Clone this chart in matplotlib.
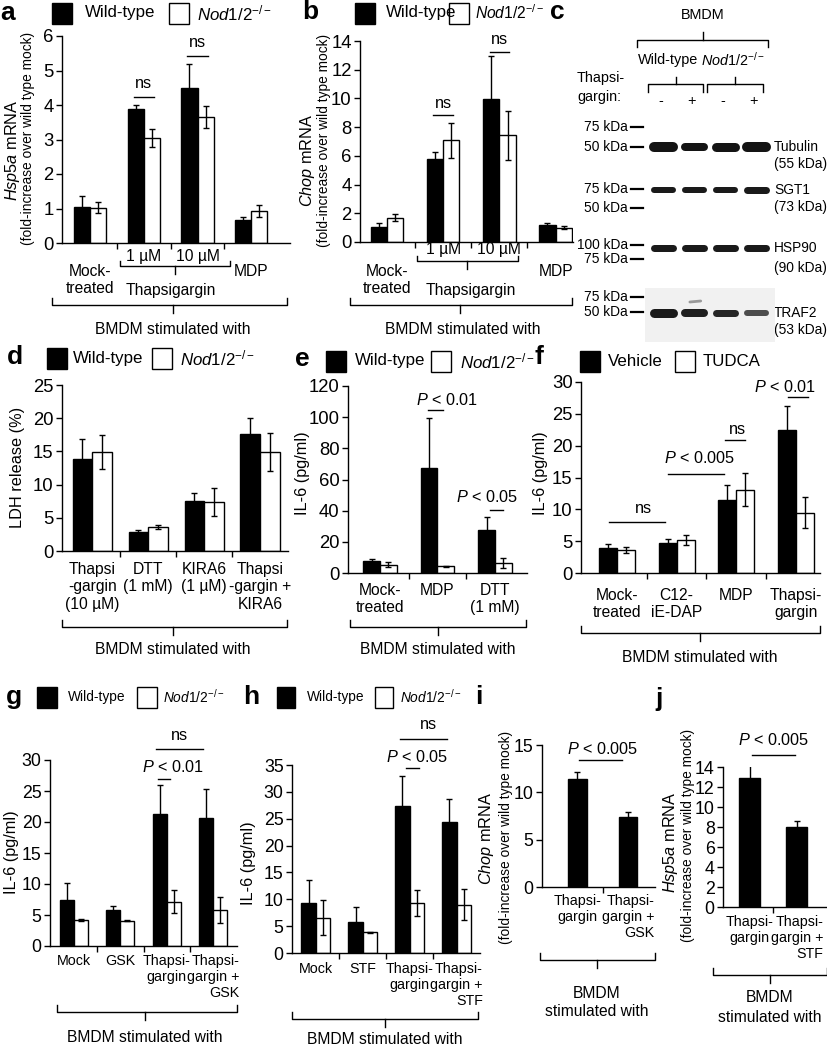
import numpy as np
import matplotlib
matplotlib.use('Agg')
import matplotlib.pyplot as plt
from matplotlib import transforms, font_manager
from matplotlib.patches import Rectangle

# the reference uses a condensed Arial-like face; take Liberation Sans Narrow if present
_names = {f.name for f in font_manager.fontManager.ttflist}
NARROW = 'Liberation Sans Narrow' in _names
FAM = 'Liberation Sans Narrow' if NARROW else 'Liberation Sans'
S = 1.0 if NARROW else 0.9      # text size factor
ST = 1.0 if NARROW else 0.95    # tick label size factor

plt.rcParams['font.family'] = [FAM, 'Liberation Sans', 'DejaVu Sans']
plt.rcParams['mathtext.fontset'] = 'custom'
plt.rcParams['mathtext.rm'] = FAM
plt.rcParams['mathtext.it'] = FAM + ':italic'
plt.rcParams['mathtext.bf'] = FAM + ':bold'
plt.rcParams['axes.linewidth'] = 1.0

NOD = r'$\mathit{Nod1/2}^{-/-}$'

# a: Hsp5a mRNA (fold-increase over wild type mock)
ab_labels = ['Mock-\ntreated', '1 µM', '10 µM', 'MDP']
a_wt = [1.05, 3.87, 4.48, 0.66]
a_wt_err = [0.30, 0.13, 0.71, 0.09]
a_ko = [1.02, 3.04, 3.65, 0.93]
a_ko_err = [0.16, 0.27, 0.33, 0.17]

# b: Chop mRNA
b_wt = [1.04, 5.76, 9.94, 1.15]
b_wt_err = [0.28, 0.50, 3.00, 0.18]
b_ko = [1.69, 7.08, 7.43, 1.00]
b_ko_err = [0.23, 1.20, 1.70, 0.12]

# c: western blot
lane_signs = ['-', '+', '-', '+']
proteins = ['Tubulin', 'SGT1', 'HSP90', 'TRAF2']
protein_sizes = ['(55 kDa)', '(73 kDa)', '(90 kDa)', '(53 kDa)']
band_thick = [[10, 8, 9, 10], [6, 6, 6, 7], [7, 7, 7, 7], [9, 8, 7, 6]]
band_grey = [[0.08, 0.08, 0.08, 0.08], [0.1, 0.1, 0.1, 0.1],
             [0.1, 0.1, 0.1, 0.1], [0.1, 0.12, 0.15, 0.3]]
markers = ['75 kDa', '50 kDa', '75 kDa', '50 kDa', '100 kDa', '75 kDa', '75 kDa', '50 kDa']

# d: LDH release (%)
d_labels = ['Thapsi\n-gargin\n(10 µM)', 'DTT\n(1 mM)', 'KIRA6\n(1 µM)', 'Thapsi\n-gargin +\nKIRA6']
d_wt = [13.9, 2.9, 7.5, 17.6]
d_wt_err = [2.9, 0.2, 1.2, 2.4]
d_ko = [14.9, 3.6, 7.4, 14.9]
d_ko_err = [2.5, 0.35, 2.1, 2.8]

# e: IL-6 (pg/ml)
e_labels = ['Mock-\ntreated', 'MDP', 'DTT\n(1 mM)']
e_wt = [7.5, 67.3, 27.3]
e_wt_err = [1.5, 32.0, 8.5]
e_ko = [5.3, 4.3, 6.4]
e_ko_err = [1.5, 0.4, 3.0]

# f: IL-6 (pg/ml), vehicle vs TUDCA
f_labels = ['Mock-\ntreated', 'C12-\niE-DAP', 'MDP', 'Thapsi-\ngargin']
f_veh = [3.9, 4.7, 11.5, 22.4]
f_veh_err = [0.6, 0.6, 2.4, 3.9]
f_tud = [3.65, 5.2, 13.1, 9.5]
f_tud_err = [0.5, 0.8, 2.6, 2.4]

# g: IL-6 (pg/ml) with GSK
g_labels = ['Mock', 'GSK', 'Thapsi-\ngargin', 'Thapsi-\ngargin +\nGSK']
g_wt = [7.5, 5.8, 21.3, 20.6]
g_wt_err = [2.6, 0.6, 4.6, 4.7]
g_ko = [4.2, 4.1, 7.15, 5.8]
g_ko_err = [0.2, 0.1, 1.9, 2.1]

# h: IL-6 (pg/ml) with STF
h_labels = ['Mock', 'STF', 'Thapsi-\ngargin', 'Thapsi-\ngargin +\nSTF']
h_wt = [9.3, 5.7, 27.3, 24.3]
h_wt_err = [4.2, 2.8, 5.7, 4.3]
h_ko = [6.6, 3.9, 9.3, 9.0]
h_ko_err = [3.2, 0.1, 2.5, 2.9]

# i: Chop mRNA
i_labels = ['Thapsi-\ngargin', 'Thapsi-\ngargin +\nGSK']
i_val = [11.4, 7.4]
i_err = [0.7, 0.5]

# j: Hsp5a mRNA
j_labels = ['Thapsi-\ngargin', 'Thapsi-\ngargin +\nSTF']
j_val = [12.9, 7.97]
j_err = [1.8, 0.65]


fig = plt.figure(figsize=(8.28, 10.5), dpi=100)
ov = fig.add_axes([0, 0, 1, 1])
ov.set_xlim(0, 828)
ov.set_ylim(1050, 0)
ov.axis('off')


def panel(l, r, y0, top, ymax, xlim, yticks, n, fs=14):
    ax = fig.add_axes([l / 828, 1 - y0 / 1050, (r - l) / 828, (y0 - top) / 1050])
    ax.set_facecolor('none')
    ax.set_xlim(*xlim)
    ax.set_ylim(0, ymax)
    ax.set_yticks(yticks)
    ax.spines['top'].set_visible(False)
    ax.spines['right'].set_visible(False)
    ax.tick_params(axis='y', direction='out', length=4, width=1, labelsize=fs * ST, pad=2)
    ax.set_xticks([])
    ax.set_xticks(np.arange(n - 1) + 0.5, minor=True)
    ax.tick_params(axis='x', which='minor', direction='out', length=4, width=1)
    return ax


def pair(ax, wt, wte, ko, koe, w):
    x = np.arange(len(wt))
    ax.bar(x - w / 2, wt, w, color='black', edgecolor='black', linewidth=1, zorder=2)
    ax.bar(x + w / 2, ko, w, color='white', edgecolor='black', linewidth=1, zorder=2)
    ax.errorbar(x - w / 2, wt, yerr=wte, fmt='none', ecolor='black', elinewidth=1,
                capsize=2.5, capthick=1, zorder=3)
    ax.errorbar(x + w / 2, ko, yerr=koe, fmt='none', ecolor='black', elinewidth=1,
                capsize=2.5, capthick=1, zorder=3)


def single(ax, v, ve, w):
    x = np.arange(len(v))
    ax.bar(x, v, w, color='black', edgecolor='black', linewidth=1, zorder=2)
    ax.errorbar(x, v, yerr=ve, fmt='none', ecolor='black', elinewidth=1,
                capsize=2.5, capthick=1, zorder=3)


def sig(ax, x0, x1, yl, xt, yt, s, fs=13):
    ax.plot([x0, x1], [yl, yl], color='black', lw=1, clip_on=False)
    ax.text(xt, yt, s, ha='center', va='center', fontsize=fs * S)


def xlab(ax, x, y, s, fs=12.5, ma='center'):
    tr = transforms.blended_transform_factory(ax.transData, ov.transData)
    ov.text(x, y - 8, s, transform=tr, ha='center', va='top', fontsize=fs * S,
            multialignment=ma, linespacing=1.2)


def brace(x0, x1, y, xm, end_dy=-7, stub_dy=8):
    ov.plot([x0, x0, x1, x1], [y + end_dy, y, y, y + end_dy], color='black', lw=1)
    ov.plot([xm, xm], [y, y + stub_dy], color='black', lw=1)


def key(xb, y, fill, xt, txt, fs=13.5, w=20, h=21):
    ov.add_patch(Rectangle((xb, y - h / 2), w, h, facecolor=fill, edgecolor='black', lw=1))
    ov.text(xt, y, txt, ha='left', va='center', fontsize=fs * S)


def ovtext(x, y, s, fs=12.5, **kw):
    kw.setdefault('ha', 'center')
    ov.text(x, y, s, va='center', fontsize=fs * S, **kw)


def ylab(x, y, s, fs=12.5):
    ov.text(x, y, s, rotation=90, ha='center', va='center', fontsize=fs * S)


def letter(x, y, s):
    ov.text(x, y, s, ha='center', va='center', fontsize=19, fontweight='bold',
            family='Liberation Sans')


FOLD = '(fold-increase over wild type mock)'
SMALL = 11.4   # category labels in the crowded bottom row

# ---- a ----
letter(8, 13, 'a')
key(52, 13, 'black', 85, 'Wild-type')
key(169, 13, 'white', 197, NOD)
ax = panel(62, 290, 243, 36, 6, (-0.52, 3.72), range(7), 4)
pair(ax, a_wt, a_wt_err, a_ko, a_ko_err, 0.3)
sig(ax, 0.81, 1.19, 4.23, 1.0, 4.62, 'ns')
sig(ax, 1.81, 2.19, 5.42, 2.0, 5.81, 'ns')
xlab(ax, 1, 257, ab_labels[1])
xlab(ax, 2, 257, ab_labels[2])
xlab(ax, 0, 272, ab_labels[0])
xlab(ax, 3, 272, ab_labels[3])
xlab(ax, 1.5, 291, 'Thapsigargin')
brace(120, 230, 266, 175, -5, 8)
brace(52, 287, 305, 173)
ovtext(173, 330, 'BMDM stimulated with')
ylab(13, 150, r'$\mathit{Hsp5a}$ mRNA', 13)
ylab(28, 138, FOLD, 11)

# ---- b ----
letter(310, 12, 'b')
key(355, 13, 'black', 386, 'Wild-type')
key(449, 13, 'white', 475, NOD, fs=12.5)
ax = panel(360, 573, 242, 41, 14, (-0.48, 3.31), range(0, 15, 2), 4)
pair(ax, b_wt, b_wt_err, b_ko, b_ko_err, 0.29)
sig(ax, 0.82, 1.18, 8.84, 1.0, 9.65, 'ns')
sig(ax, 1.83, 2.17, 13.2, 2.0, 14.1, 'ns')
xlab(ax, 1, 250, ab_labels[1])
xlab(ax, 2, 250, ab_labels[2])
xlab(ax, 0, 272, ab_labels[0])
xlab(ax, 3, 272, ab_labels[3])
xlab(ax, 1.5, 291, 'Thapsigargin')
brace(417, 518, 261, 467, -5, 8)
brace(350, 572, 305, 460)
ovtext(463, 330, 'BMDM stimulated with')
ylab(308, 160, r'$\mathit{Chop}$ mRNA', 13)
ylab(324, 140, FOLD, 11)

# ---- c: western blot ----
letter(557, 12, 'c')
ovtext(703, 15, 'BMDM', 11.5)
brace(637, 768, 40, 703, 7, -8)
ovtext(668, 60, 'Wild-type', 11.5)
ovtext(733, 60, NOD, 11.5)
brace(648, 703, 84, 676, 8, -7)
brace(707, 763, 84, 735, 8, -7)
ovtext(577, 78, 'Thapsi-', 11.5, ha='left')
ovtext(577, 97, 'gargin:', 11.5, ha='left')

bl = fig.add_axes([645 / 828, 1 - 345 / 1050, 130 / 828, 235 / 1050])
bl.set_xlim(-0.6, 3.6)
bl.set_ylim(345, 110)
bl.axis('off')
band_y = [147, 190, 248, 313]
lx = np.arange(len(lane_signs))
bl.add_patch(Rectangle((-0.6, 288), 4.2, 54, facecolor='#f1f1f1', edgecolor='none', zorder=0))
for yb, th, gr in zip(band_y, band_thick, band_grey):
    for x, t, g in zip(lx, th, gr):
        bl.plot([x - 0.3, x + 0.3], [yb, yb], color=str(g), lw=t * 0.72,
                solid_capstyle='round', zorder=2)
bl.plot([1 - 0.15, 1 + 0.2], [302, 301], color='0.6', lw=2, solid_capstyle='round', zorder=1)
tr_c = transforms.blended_transform_factory(bl.transData, ov.transData)
for x, s in zip(lx, lane_signs):
    ov.text(x - 0.1, 101, s, transform=tr_c, ha='center', va='center', fontsize=11.5 * S)

marker_y = [127, 147, 189, 208, 245, 259, 297, 312]
for m, ym in zip(markers, marker_y):
    ov.text(628, ym, m, ha='right', va='center', fontsize=11 * S)
    ov.plot([631, 643], [ym, ym], color='black', lw=1.6)
size_y = [164, 207, 268, 330]
for p, s, yb, ys in zip(proteins, protein_sizes, band_y, size_y):
    ov.text(774, yb, p, ha='left', va='center', fontsize=11 * S)
    ov.text(774, ys, s, ha='left', va='center', fontsize=11 * S)

# ---- d ----
letter(15, 357, 'd')
key(47, 358, 'black', 73, 'Wild-type')
key(152, 358, 'white', 180, NOD)
ax = panel(62, 288, 551, 385, 25, (-0.54, 3.5), range(0, 26, 5), 4)
pair(ax, d_wt, d_wt_err, d_ko, d_ko_err, 0.35)
for k, s in enumerate(d_labels):
    xlab(ax, k, 570, s)
brace(62, 287, 627, 173)
ovtext(173, 650, 'BMDM stimulated with')
ylab(18, 467, 'LDH release (%)', 13)

# ---- e ----
letter(302, 359, 'e')
key(326, 361, 'black', 355, 'Wild-type')
key(431, 361, 'white', 460, NOD)
ax = panel(348, 527, 573, 386, 120, (-0.56, 2.56), range(0, 121, 20), 3)
pair(ax, e_wt, e_wt_err, e_ko, e_ko_err, 0.29)
sig(ax, 0.84, 1.1, 104.6, 1.17, 111.0, r'$\mathit{P}$ < 0.01')
sig(ax, 1.91, 2.14, 40.4, 1.86, 48.8, r'$\mathit{P}$ < 0.05')
for k, s in enumerate(e_labels):
    xlab(ax, k, 591, s)
brace(350, 526, 627, 438)
ovtext(438, 650, 'BMDM stimulated with')
ylab(303, 473, 'IL-6 (pg/ml)', 13)

# ---- f ----
letter(539, 357, 'f')
key(580, 361, 'black', 608, 'Vehicle')
key(675, 361, 'white', 703, 'TUDCA')
ax = panel(581, 820, 573, 382, 30, (-0.6, 3.4), range(0, 31, 5), 4)
pair(ax, f_veh, f_veh_err, f_tud, f_tud_err, 0.3)
sig(ax, -0.13, 0.8, 8.0, 0.44, 10.2, 'ns')
sig(ax, 0.86, 1.79, 15.6, 1.39, 18.1, r'$\mathit{P}$ < 0.005')
sig(ax, 1.81, 2.14, 20.9, 2.02, 22.5, 'ns')
sig(ax, 2.86, 3.2, 27.6, 2.82, 29.2, r'$\mathit{P}$ < 0.01')
for k, s in enumerate(f_labels):
    xlab(ax, k, 596, s)
brace(581, 820, 633, 700)
ovtext(700, 657, 'BMDM stimulated with')
ylab(541, 473, 'IL-6 (pg/ml)', 13)

# ---- g ----
letter(14, 697, 'g')
key(37, 697, 'black', 68, 'Wild-type', fs=11)
key(137, 697, 'white', 163, NOD, fs=11)
ax = panel(50, 237, 946, 760, 30, (-0.52, 3.52), range(0, 31, 5), 4, fs=13.5)
pair(ax, g_wt, g_wt_err, g_ko, g_ko_err, 0.3)
sig(ax, 1.82, 2.08, 26.9, 2.13, 28.9, r'$\mathit{P}$ < 0.01')
sig(ax, 1.76, 2.78, 31.8, 2.27, 34.0, 'ns')
for k, s in enumerate(g_labels):
    xlab(ax, k, 962, s, fs=SMALL, ma='right' if k == 3 else 'center')
brace(57, 237, 1012, 145)
ovtext(145, 1037, 'BMDM stimulated with')
ylab(12, 852, 'IL-6 (pg/ml)', 13)

# ---- h ----
letter(251, 697, 'h')
key(277, 697, 'black', 307, 'Wild-type', fs=11, w=18)
key(375, 697, 'white', 400, NOD, fs=11, w=18)
ax = panel(292, 480, 953, 765, 35, (-0.51, 3.5), range(0, 36, 5), 4, fs=13.5)
pair(ax, h_wt, h_wt_err, h_ko, h_ko_err, 0.31)
sig(ax, 1.92, 2.2, 34.4, 2.17, 36.5, r'$\mathit{P}$ < 0.05')
sig(ax, 1.8, 2.8, 39.9, 2.4, 42.5, 'ns')
for k, s in enumerate(h_labels):
    xlab(ax, k, 970, s, fs=SMALL, ma='right' if k == 3 else 'center')
brace(292, 478, 1019, 385)
ovtext(385, 1040, 'BMDM stimulated with')
ylab(249, 863, 'IL-6 (pg/ml)', 13)

# ---- i ----
letter(479, 697, 'i')
ax = panel(542, 655, 887, 745, 15, (-0.69, 1.53), range(0, 16, 5), 2, fs=13.5)
single(ax, i_val, i_err, 0.37)
sig(ax, 0.04, 0.88, 13.4, 0.5, 14.6, r'$\mathit{P}$ < 0.005')
for k, s in enumerate(i_labels):
    xlab(ax, k, 902, s, fs=SMALL, ma='right' if k == 1 else 'center')
brace(540, 655, 960, 597)
ovtext(597, 993, 'BMDM')
ovtext(597, 1012, 'stimulated with')
ylab(487, 838, r'$\mathit{Chop}$ mRNA', 13)
ylab(506, 837, FOLD, 11)

# ---- j ----
letter(659, 699, 'j')
ax = panel(723, 827, 907, 767, 14, (-0.57, 1.64), range(0, 15, 2), 2, fs=13.5)
single(ax, j_val, j_err, 0.45)
sig(ax, 0.04, 0.96, 15.2, 0.5, 16.7, r'$\mathit{P}$ < 0.005')
for k, s in enumerate(j_labels):
    xlab(ax, k, 923, s, fs=SMALL, ma='right' if k == 1 else 'center')
brace(713, 827, 975, 770)
ovtext(770, 998, 'BMDM')
ovtext(770, 1017, 'stimulated with')
ylab(671, 842, r'$\mathit{Hsp5a}$ mRNA', 13)
ylab(688, 835, FOLD, 11)

fig.savefig('out.png', dpi=100)
